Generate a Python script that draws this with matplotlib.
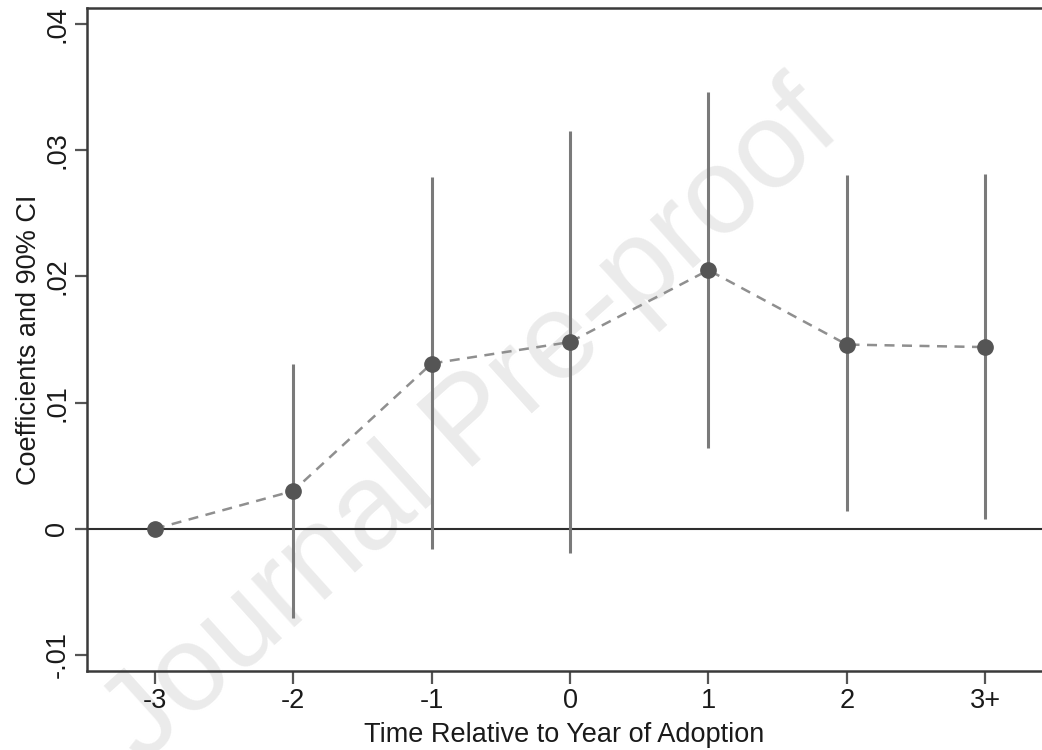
import matplotlib.pyplot as plt
import numpy as np

plt.rcParams['font.family'] = ['Liberation Sans', 'DejaVu Sans']

# event-time coefficients with 90% confidence bounds
periods = [-3, -2, -1, 0, 1, 2, 3]
period_labels = ['-3', '-2', '-1', '0', '1', '2', '3+']
coef = [0.0, 0.0030, 0.0131, 0.0148, 0.0205, 0.0146, 0.0144]
ci_low = [np.nan, -0.0071, -0.0016, -0.0019, 0.0064, 0.0014, 0.0008]
ci_high = [np.nan, 0.0131, 0.0279, 0.0315, 0.0346, 0.0280, 0.0281]

y_ticks = [-0.01, 0, 0.01, 0.02, 0.03, 0.04]
y_tick_labels = ['-.01', '0', '.01', '.02', '.03', '.04']

fig = plt.figure(figsize=(10.42, 7.5), dpi=100)
ax = fig.add_axes([0.0835, 0.1053, 0.9165, 0.884])

# confidence intervals as plain vertical spikes
ax.vlines(periods, ci_low, ci_high, color='#7a7a7a', linewidth=2.2, zorder=2)
ax.axhline(0, color='#2e2e2e', linewidth=1.5, zorder=1)
ax.plot(periods, coef, linestyle=(0, (4, 3)), color='#8f8f8f', linewidth=1.8, zorder=3)
ax.plot(periods, coef, linestyle='none', marker='o', markersize=11,
        color='#555555', zorder=4)

ax.set_xlim(-3.49, 3.41)
ax.set_ylim(-0.01127, 0.04127)
ax.set_xticks(periods)
ax.set_xticklabels(period_labels)
ax.set_yticks(y_ticks)
ax.set_yticklabels(y_tick_labels, rotation=90, va='center')

ax.tick_params(axis='both', direction='out', length=9, width=1.6,
               color='#555555', labelsize=19.5, labelcolor='#1a1a1a', pad=3)
for side in ['left', 'bottom', 'top']:
    ax.spines[side].set_color('#3a3a3a')
    ax.spines[side].set_linewidth(1.8)
ax.spines['right'].set_visible(False)

ax.set_xlabel('Time Relative to Year of Adoption', fontsize=19.5, color='#1a1a1a', labelpad=6)
ax.set_ylabel('Coefficients and 90% CI', fontsize=19.5, color='#1a1a1a', labelpad=2)

# journal watermark behind the data
ax.text(0.403, 0.372, 'Journal Pre-proof', transform=ax.transAxes, fontsize=88,
        color='#ebebeb', rotation=42, ha='center', va='center',
        rotation_mode='anchor', zorder=0, clip_on=False)

fig.savefig('out.png', dpi=100)
